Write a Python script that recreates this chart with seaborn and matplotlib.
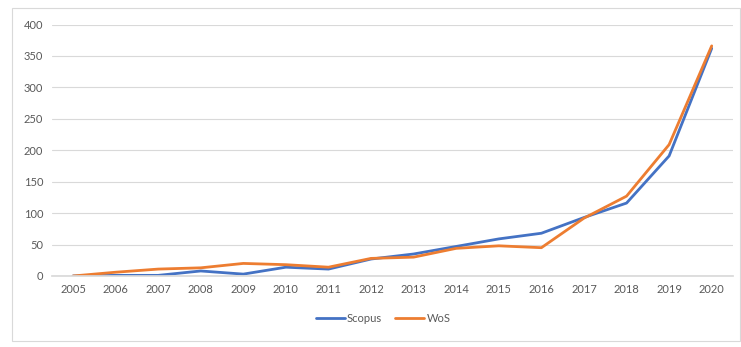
import matplotlib
matplotlib.use("Agg")
import matplotlib.pyplot as plt
import seaborn as sns
import pandas as pd
from matplotlib.patches import Rectangle

years = [str(y) for y in range(2005, 2021)]
scopus = [0, 1, 1, 8, 3, 14, 11, 27, 35, 47, 59, 68, 93, 116, 191, 362]
wos = [0, 6, 11, 13, 20, 18, 14, 28, 30, 44, 48, 45, 92, 127, 209, 366]

df = pd.DataFrame({"Year": years * 2,
                   "Value": scopus + wos,
                   "Source": ["Scopus"] * len(years) + ["WoS"] * len(years)})

sns.set_theme(style="white")
plt.rcParams['font.family'] = ['Lato', 'DejaVu Sans']

fig = plt.figure(figsize=(7.41, 3.47), dpi=100)
ax = fig.add_axes([51.7 / 741, (347 - 276) / 347, (733 - 51.7) / 741, (276 - 24.5) / 347])

palette = {"Scopus": "#4472C4", "WoS": "#ED7D31"}
sns.lineplot(data=df, x="Year", y="Value", hue="Source", palette=palette,
             linewidth=2.0, ax=ax, sort=False)

ax.set_xlim(-0.5, len(years) - 0.5)
ax.set_ylim(0, 400)
ax.set_yticks(range(0, 401, 50))
ax.yaxis.grid(True, color="#d9d9d9", linewidth=0.8)
ax.set_axisbelow(True)
for s in ["top", "right", "left"]:
    ax.spines[s].set_visible(False)
ax.spines["bottom"].set_color("#d9d9d9")
ax.tick_params(axis="both", colors="#595959", labelsize=8, length=0, pad=6)
ax.set_xlabel("")
ax.set_ylabel("")

handles, labels = ax.get_legend_handles_labels()
leg = ax.legend(handles, labels, loc="center", bbox_to_anchor=(383 / 741, (347 - 318) / 347),
                bbox_transform=fig.transFigure, ncol=2, frameon=False, fontsize=8,
                handlelength=2.6, handletextpad=0.2, columnspacing=1.2)
for t in leg.get_texts():
    t.set_color("#595959")

fig.patches.append(Rectangle((12 / 741, (347 - 341) / 347), (740 - 12) / 741, (341 - 8) / 347,
                             transform=fig.transFigure, fill=False,
                             edgecolor="#d9d9d9", linewidth=0.8))

fig.savefig("out.png", dpi=100)
